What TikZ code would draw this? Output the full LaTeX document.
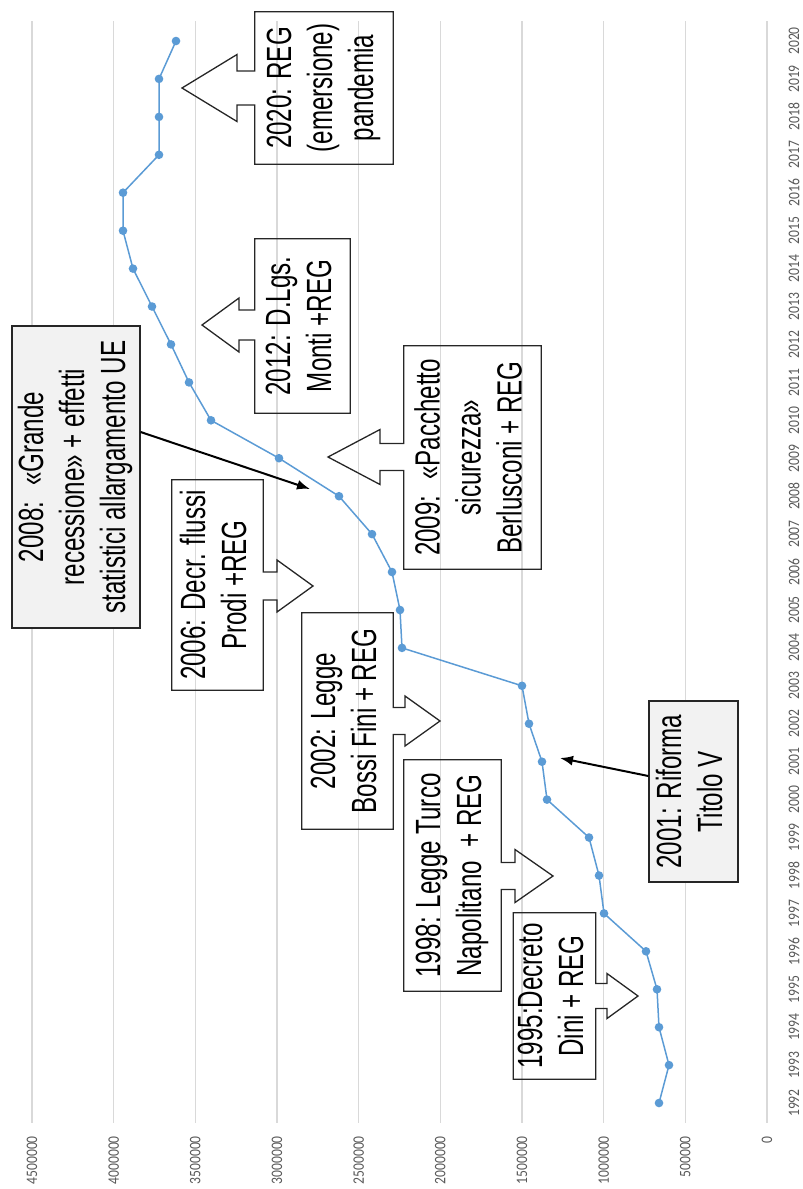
\documentclass[tikz,border=0pt]{standalone}
\usepackage{fontspec}
\usepackage{graphicx}
\usetikzlibrary{arrows.meta}
\newfontfamily\boxfont[FakeStretch=0.69]{Liberation Sans}
\newfontfamily\axisfont[FakeStretch=0.85]{Carlito}
\definecolor{gridgray}{HTML}{D9D9D9}
\definecolor{series}{HTML}{5B9BD5}
\definecolor{axistext}{HTML}{595959}
\definecolor{notefill}{HTML}{F2F2F2}
\newcommand\boxtext[1]{\rotatebox{90}{\boxfont\fontsize{35bp}{41bp}\selectfont\begin{tabular}{@{}c@{}}#1\end{tabular}}}
% left-pointing callout: #1 box, #2 tip x, #3 tip y, #4 head base x, #5 stem half, #6 head half
\newcommand\Lcall[6]{%
  \coordinate (#1-sa) at (0,#3+#5);
  \coordinate (#1-sb) at (0,#3-#5);
  \draw[callout] (#1.north west) -- (#1.north east) -- (#1.south east) -- (#1.south west)
    -- (#1.west |- #1-sa) -- (#4,#3+#5) -- (#4,#3+#6) -- (#2,#3) -- (#4,#3-#6) -- (#4,#3-#5)
    -- (#1.west |- #1-sb) -- cycle;}
% right-pointing callout
\newcommand\Rcall[6]{%
  \coordinate (#1-sa) at (0,#3-#5);
  \coordinate (#1-sb) at (0,#3+#5);
  \draw[callout] (#1.north west) -- (#1.north east) -- (#1.east |- #1-sa) -- (#4,#3-#5)
    -- (#4,#3-#6) -- (#2,#3) -- (#4,#3+#6) -- (#4,#3+#5) -- (#1.east |- #1-sb)
    -- (#1.south east) -- (#1.south west) -- cycle;}
\tikzset{
  gridline/.style={draw=gridgray, line width=1.3bp},
  dataline/.style={draw=series, line width=1.5bp},
  axislabel/.style={font=\axisfont\fontsize{16bp}{18bp}\selectfont, text=axistext, inner sep=0pt},
  notebox/.style={inner sep=0pt},
  graybox/.style={draw=black!85, fill=notefill, line width=1.3bp, inner sep=0pt},
  callout/.style={draw=black!85, line width=1.3bp, line join=miter},
  pointer/.style={draw=black, line width=2bp, -{Latex[length=13bp,width=10bp]}}
}
\begin{document}
\begin{tikzpicture}[x=1bp,y=-1bp]
\useasboundingbox (0,0) rectangle (803,1189);
% gridlines and value labels
\foreach \k/\lab in {0/0,1/500000,2/1000000,3/1500000,4/2000000,5/2500000,6/3000000,7/3500000,8/4000000,9/4500000}{
  \pgfmathsetmacro\gx{767-\k*81.67}
  \draw[gridline] (\gx,21) -- (\gx,1123);
  \node[axislabel, rotate=90, anchor=east] (val\k) at (\gx,1136) {\lab};
}
% year labels
\foreach \i in {0,...,28}{
  \pgfmathsetmacro\yy{41+\i*37.93}
  \pgfmathtruncatemacro\yr{2020-\i}
  \node[axislabel, rotate=90] (yr\i) at (794,\yy) {\yr};
}
% data series
\draw[dataline] plot[mark=*, mark size=3.5bp, mark options={fill=series, draw=series}] coordinates {
  (176,41.0) (159,78.9) (159,116.9) (159,154.8) (123,192.7) (123,230.7) (133,268.6)
  (152,306.5) (171,344.4) (189,382.4) (211,420.3) (279,458.2) (339,496.2) (372,534.1)
  (392,572.0) (400,610.0) (402,647.9) (522,685.8) (529,723.7) (542,761.7) (547,799.6)
  (589,837.5) (599,875.5) (604,913.4) (646,951.3) (657,989.3) (659,1027.2) (669,1065.1)
  (659,1103.0)};
% callout boxes
\node[notebox, minimum width=138bp, minimum height=152bp] (b2020) at (324,88) {\boxtext{2020: REG\\(emersione)\\pandemia}};
\Lcall{b2020}{182}{88}{237}{17}{33.5}
\node[notebox, minimum width=95bp, minimum height=174bp] (b2012) at (302.5,326) {\boxtext{2012: D.Lgs.\\Monti +REG}};
\Lcall{b2012}{202}{325}{239}{15}{27}
\node[notebox, minimum width=137bp, minimum height=223bp] (b2009) at (472.5,457.5) {\boxtext{2009:~ «Pacchetto\\sicurezza»\\Berlusconi + REG}};
\Lcall{b2009}{328}{457}{380}{13.5}{27.5}
\node[notebox, minimum width=91bp, minimum height=210bp] (b2006) at (217.5,585) {\boxtext{2006: Decr. flussi\\Prodi +REG}};
\Rcall{b2006}{313}{586}{277}{14}{26}
\node[notebox, minimum width=91bp, minimum height=216bp] (b2002) at (347.5,721) {\boxtext{2002: Legge\\Bossi Fini + REG}};
\Rcall{b2002}{440}{721}{405}{13.5}{25}
\node[notebox, minimum width=97bp, minimum height=231bp] (b1998) at (452.5,875.5) {\boxtext{1998: Legge Turco\\Napolitano\ \ + REG}};
\Rcall{b1998}{553}{876}{515}{13.5}{26.5}
\node[notebox, minimum width=81bp, minimum height=166bp] (b1995) at (554.5,996) {\boxtext{1995:Decreto\\Dini + REG}};
\Rcall{b1995}{638}{996}{607}{12.5}{22.5}
% gray notes with pointers
\node[graybox, minimum width=128bp, minimum height=302bp] (b2008) at (76,477) {\boxtext{2008:~ «Grande\\recessione» + effetti\\statistici allargamento UE}};
\coordinate (s2008) at (0,432);
\coordinate (t2008) at (310,489);
\draw[pointer] (b2008.east |- s2008) -- (t2008);
\node[graybox, minimum width=89bp, minimum height=181bp] (b2001) at (693.5,791.5) {\boxtext{2001: Riforma\\Titolo V}};
\coordinate (s2001) at (0,776);
\coordinate (t2001) at (560,758);
\draw[pointer] (b2001.west |- s2001) -- (t2001);
\end{tikzpicture}
\end{document}
